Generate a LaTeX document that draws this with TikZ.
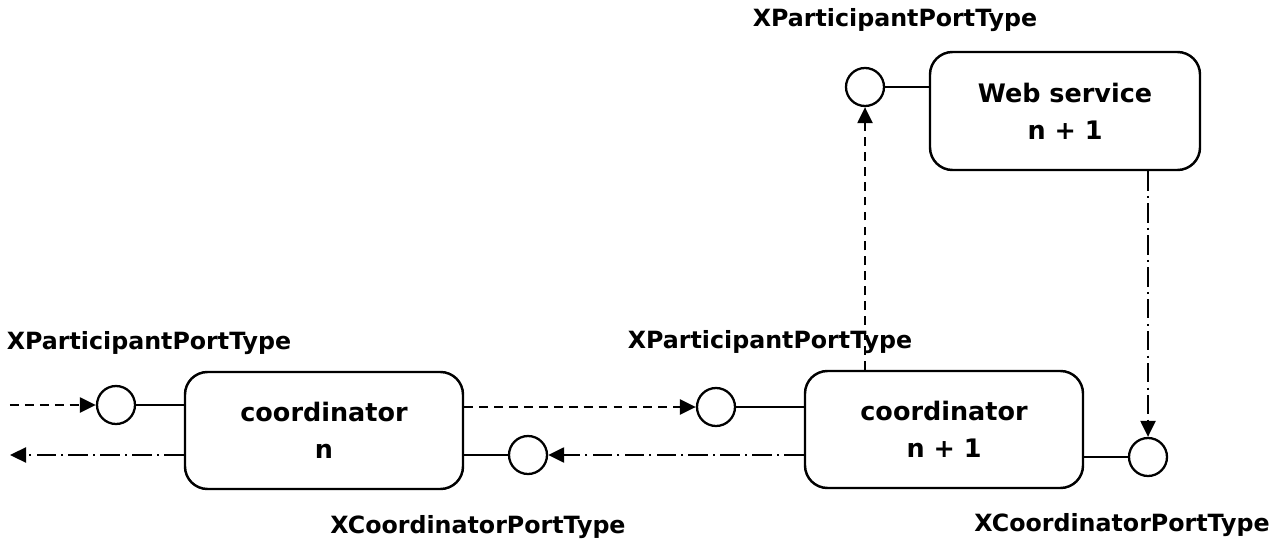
\documentclass[tikz,border=0pt]{standalone}
\usepackage{fontspec}
\setmainfont{DejaVu Sans}
\usetikzlibrary{arrows.meta,positioning,calc}

\begin{document}
\begin{tikzpicture}[
    box/.style={draw,rounded corners=0.45cm,line width=1.4pt,align=center,
      minimum width=5.56cm,minimum height=2.34cm,font=\fontsize{14.5}{21}\selectfont\bfseries},
    port/.style={draw,circle,line width=1.3pt,minimum size=0.76cm,inner sep=0pt},
    lbl/.style={font=\fontsize{13.5}{16}\selectfont\bfseries},
    link/.style={line width=1.3pt},
    req/.style={link,dash pattern=on 5pt off 3.5pt,-{Triangle[length=3.2mm,width=3mm]}},
    resp/.style={link,dash pattern=on 11pt off 3pt on 1.2pt off 3pt,-{Triangle[length=3.2mm,width=3mm]}}]
        \useasboundingbox (0,0) rectangle (25.4,-10.86);

        % boxes
        \node[box] (cn) at (6.48,-8.61) {coordinator\\n};
        \node[box] (cn1) at (18.88,-8.59) {coordinator\\n + 1};
        \node[box,minimum width=5.4cm,minimum height=2.36cm] (ws) at (21.3,-2.22) {Web service\\n + 1};

        % ports
        \node[port] (pin) at (2.32,-8.10) {};
        \node[port] (pn1) at (14.32,-8.14) {};
        \node[port] (cp) at (10.56,-9.10) {};
        \node[port] (cp1) at (22.96,-9.14) {};
        \node[port] (pws) at (17.30,-1.74) {};

        \draw[link] (pin) -- (pin -| cn.west);
        \draw[link] (pn1) -- (pn1 -| cn1.west);
        \draw[link] (cp) -- (cp -| cn.east);
        \draw[link] (cp1) -- (cp1 -| cn1.east);
        \draw[link] (pws) -- (pws -| ws.west);

        % port type labels
        \node[lbl] (l1) at (2.98,-6.86) {XParticipantPortType};
        \node[lbl] (l2) at (15.4,-6.84) {XParticipantPortType};
        \node[lbl] (l3) at (17.9,-0.40) {XParticipantPortType};
        \node[lbl] (l4) at (9.56,-10.54) {XCoordinatorPortType};
        \node[lbl] (l5) at (22.44,-10.50) {XCoordinatorPortType};

        % messages
        \coordinate (inL) at (0.2,-8.10);
        \coordinate (outL) at (0.2,-9.10);
        \draw[req] (inL) -- (pin);
        \draw[resp] (outL -| cn.west) -- (outL);
        \draw[req] (pn1 -| cn.east) -- (pn1);
        \draw[resp] (cp -| cn1.west) -- (cp);
        \draw[req] (pws |- cn1.north) -- (pws);
        \draw[resp] (cp1 |- ws.south) -- (cp1);

      \end{tikzpicture}
\end{document}
